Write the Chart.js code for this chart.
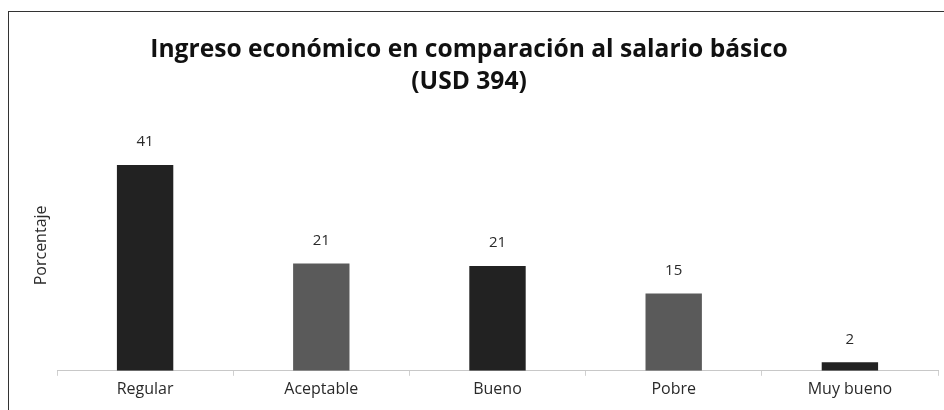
<!DOCTYPE html>
<html>
<head>
<meta charset="utf-8">
<script src="https://cdn.jsdelivr.net/npm/chart.js@4"></script>
<style>
  html, body { margin: 0; padding: 0; background: #fff; overflow: hidden; }
  #marco { position: absolute; left: 8px; top: 11px; width: 940px; height: 410px;
           border-left: 1.5px solid #333; border-top: 1.5px solid #333; }
  #lienzo { position: absolute; left: 0; top: 0; }
</style>
</head>
<body>
<div id="marco"></div>
<canvas id="lienzo" width="944" height="410"></canvas>
<script>
// Datos del gráfico
const categorias = ['Regular', 'Aceptable', 'Bueno', 'Pobre', 'Muy bueno'];
const porcentajes = [41, 21.4, 20.9, 15.4, 1.7];
const coloresBarras = ['#222222', '#5a5a5a', '#222222', '#5a5a5a', '#222222'];
const titulo = ['Ingreso económico en comparación al salario básico', '(USD 394)'];

// Etiquetas encima de cada barra
const etiquetasValores = {
    id: 'etiquetasValores',
    afterDatasetsDraw(chart) {
        const ctx = chart.ctx;
        const meta = chart.getDatasetMeta(0);
        ctx.save();
        ctx.font = '15px "Open Sans"';
        ctx.fillStyle = '#2a2a2a';
        ctx.textAlign = 'center';
        ctx.textBaseline = 'middle';
        meta.data.forEach((barra, i) => {
            ctx.fillText(Math.round(porcentajes[i]), barra.x, barra.y - 23);
        });
        ctx.restore();
    }
};

new Chart(document.getElementById('lienzo').getContext('2d'), {
    type: 'bar',
    data: {
        labels: categorias,
        datasets: [{
            data: porcentajes,
            backgroundColor: coloresBarras,
            barPercentage: 0.32,
            categoryPercentage: 1
        }]
    },
    options: {
        responsive: false,
        animation: false,
        layout: { padding: { left: 0, right: 6, top: 0, bottom: 7 } },
        plugins: {
            legend: { display: false },
            tooltip: { enabled: false },
            title: {
                display: true,
                text: titulo,
                color: '#111',
                font: { family: '"Open Sans"', size: 24.6, weight: 'bold', lineHeight: 1.3 },
                padding: { top: 34, bottom: 22 }
            }
        },
        scales: {
            x: {
                grid: { display: true, drawOnChartArea: false, drawTicks: true, tickLength: 5, color: '#d0d0d0', offset: true },
                border: { display: true, color: '#c8c8c8', width: 1 },
                ticks: { color: '#2a2a2a', padding: 4, font: { family: '"Open Sans"', size: 16 } }
            },
            y: {
                min: 0,
                max: 50,
                ticks: { display: false },
                grid: { display: false },
                border: { display: false },
                title: {
                    display: true,
                    text: 'Porcentaje',
                    color: '#2a2a2a',
                    font: { family: '"Open Sans"', size: 16 },
                    padding: { top: 32, bottom: 0 }
                },
                afterFit(escala) { escala.width = 57; }
            }
        }
    },
    plugins: [etiquetasValores]
});
</script>
</body>
</html>
